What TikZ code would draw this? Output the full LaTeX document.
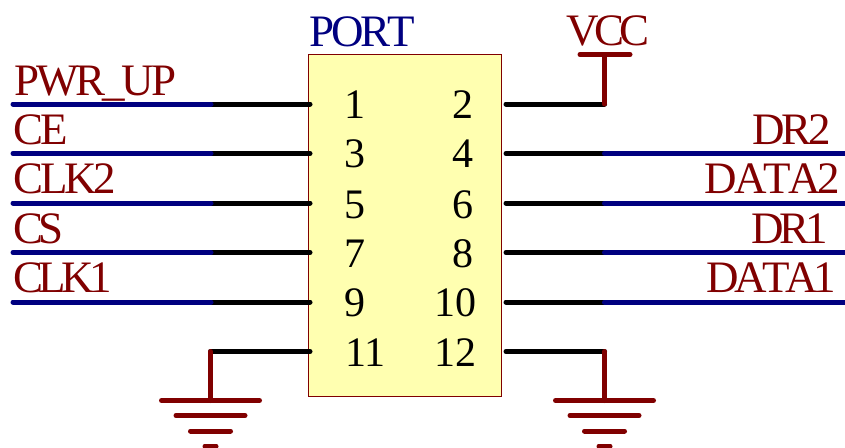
\documentclass[tikz,border=0pt]{standalone}
\usepackage{fontspec}
\setmainfont{Liberation Serif}
\newfontfamily\tightfont[LetterSpace=-7,Kerning=Off]{Liberation Serif}
\newfontfamily\tighterfont[LetterSpace=-10,Kerning=Off]{Liberation Serif}
\definecolor{netred}{RGB}{128,0,0}
\definecolor{netblue}{RGB}{0,0,128}
\definecolor{bodyfill}{RGB}{255,255,176}
\tikzset{
  wirebase/.style={line width=5pt,line cap=round},
  pinwire/.style={wirebase,draw=black},
  buswire/.style={wirebase,draw=netblue},
  powerwire/.style={wirebase,draw=netred},
  netlabel/.style={inner sep=0pt,text=netred,font=\fontsize{45pt}{45pt}\tightfont},
  netlabelnarrow/.style={netlabel,font=\fontsize{45pt}{45pt}\tighterfont},
  pinlabel/.style={inner sep=0pt,text=black,font=\fontsize{42pt}{42pt}\selectfont},
  partbody/.style={draw=netred,fill=bodyfill,line width=1pt,inner sep=0pt,minimum width=193pt,minimum height=342pt}
}
\begin{document}
\begin{tikzpicture}[x=1pt,y=-1pt]
\useasboundingbox (0,0) rectangle (845,447);
\clip (0,0) rectangle (845,447);
\node[partbody] (body) at (405,225) {};
\node[netlabel,text=netblue,anchor=base west] (port) at (309,46) {PORT};
% pin numbers
\foreach \n/\t/\y in {p1/1/118,p3/3/167,p5/5/218,p7/7/267,p9/9/316}
  \node[pinlabel,anchor=base] (\n) at (355,\y) {\t};
\node[pinlabel,anchor=base] (p11) at (365.5,366) {11};
\foreach \n/\t/\y in {p2/2/118,p4/4/167,p6/6/218,p8/8/267}
  \node[pinlabel,anchor=base] (\n) at (463,\y) {\t};
\node[pinlabel,anchor=base] (p10) at (455,316) {10};
\node[pinlabel,anchor=base] (p12) at (455,366) {12};
% junction coordinates
\foreach \n/\y in {a/104,b/153.5,c/203,d/252.5,e/302,f/351.5}{
  \coordinate (l\n) at (13,\y);
  \coordinate (m\n) at (211,\y);
  \coordinate (i\n) at (310,\y);
  \coordinate (j\n) at (506,\y);
  \coordinate (k\n) at (604.5,\y);
  \coordinate (r\n) at (850,\y);
}
% left wires
\foreach \n in {a,b,c,d,e}{
  \draw[pinwire] (m\n) -- (i\n);
  \draw[buswire] (l\n) -- (m\n);
}
% right wires
\foreach \n in {b,c,d,e}{
  \draw[pinwire] (j\n) -- (k\n);
  \draw[buswire] (k\n) -- (r\n);
}
% net labels
\node[netlabel,anchor=base west] (pwr) at (14,95) {PWR\_UP};
\node[netlabel,anchor=base west] (ce) at (13,144) {CE};
\node[netlabel,anchor=base west] (clkb) at (13,193) {CLK2};
\node[netlabelnarrow,anchor=base west] (cs) at (13,243) {CS};
\node[netlabelnarrow,anchor=base west] (clka) at (13,292) {CLK1};
\node[netlabel,anchor=base east] (drb) at (831.5,144) {DR2};
\node[netlabel,anchor=base east] (datab) at (840,193) {DATA2};
\node[netlabelnarrow,anchor=base east] (dra) at (828,243) {DR1};
\node[netlabelnarrow,anchor=base east] (dataa) at (836,292) {DATA1};
% VCC
\draw[pinwire] (ja) -- (ka);
\coordinate (vcc) at (604.5,54.5);
\draw[powerwire] (ka) -- (vcc);
\draw[powerwire] (580,54.5) -- (630,54.5);
\node[netlabelnarrow,anchor=base] (vcct) at (608,45) {VCC};
% grounds
\coordinate (gl) at (210.5,351.5);
\coordinate (gr) at (604.5,351.5);
\draw[pinwire] (gl) -- (if);
\draw[pinwire] (jf) -- (gr);
\foreach \g/\x in {gl/210.5,gr/604.5}{
  \coordinate (\g b) at (\x,400.5);
  \draw[powerwire] (\g) -- (\g b);
  \draw[powerwire] (\x-49,400.5) -- (\x+49,400.5);
  \draw[powerwire] (\x-34.5,415.5) -- (\x+34.5,415.5);
  \draw[powerwire] (\x-20,431) -- (\x+20,431);
  \draw[powerwire] (\x-5.5,446) -- (\x+5.5,446);
}
\end{tikzpicture}
\end{document}
